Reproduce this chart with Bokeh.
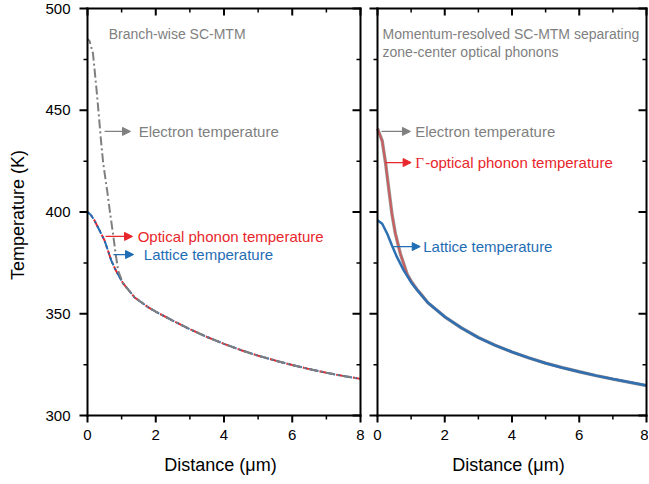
from bokeh.plotting import figure
from bokeh.layouts import row
from bokeh.models import Range1d, FixedTicker, Label, Arrow, NormalHead
from bokeh.embed import file_html
from bokeh.resources import INLINE

# ---------------- data ----------------
x_ticks = [0, 2, 4, 6, 8]
x_minor = [1, 3, 5, 7]
y_ticks = [300, 350, 400, 450, 500]
y_minor = [325, 375, 425, 475]

# Left panel: branch-wise SC-MTM
x_left_electron = [0, 0.06, 0.16, 0.26, 0.33, 0.39, 0.46, 0.58, 0.65, 0.75, 0.82, 0.9,
                   1.04, 1.38, 1.77, 2.0, 2.5, 3, 3.5, 4, 4.5, 5, 5.5, 6, 6.5, 7, 7.5, 8]
T_left_electron = [485, 484, 478, 461, 448, 436, 424, 410, 401, 389, 380, 371,
                   365, 358, 353.3, 351, 346.6, 342.4, 338.6, 335.2, 332.1, 329.4, 327,
                   324.8, 322.8, 321, 319.4, 318]
x_left_optical = [0, 0.1, 0.2, 0.35, 0.5, 0.6, 0.7, 0.84, 1.04, 1.38, 1.77, 2.0,
                  2.5, 3, 3.5, 4, 4.5, 5, 5.5, 6, 6.5, 7, 7.5, 8]
T_left_optical = [400, 398.5, 396, 391, 386, 381, 376, 371, 365, 358, 353.3, 351,
                  346.6, 342.4, 338.6, 335.2, 332.1, 329.4, 327, 324.8, 322.8, 321, 319.4, 318]
x_left_lattice = [0, 0.1, 0.2, 0.35, 0.5, 0.6, 0.7, 0.84, 1.04, 1.38, 1.77, 2.0,
                  2.5, 3, 3.5, 4, 4.5, 5, 5.5, 6, 6.5, 7, 7.5, 8]
T_left_lattice = [400, 398.5, 396, 391, 386, 381, 376, 371, 365, 358, 353.3, 351,
                  346.6, 342.4, 338.6, 335.2, 332.1, 329.4, 327, 324.8, 322.8, 321, 319.4, 318]

# Right panel: momentum-resolved SC-MTM
x_right_electron = [0, 0.14, 0.24, 0.33, 0.43, 0.53, 0.68, 0.88, 1.0, 1.17, 1.3, 1.5,
                    2, 2.5, 3, 3.5, 4, 4.5, 5, 5.5, 6, 6.5, 7, 7.5, 8]
T_right_electron = [441, 435, 424, 412, 399, 389.5, 379.5, 369.5, 366, 362, 359.5, 355.4,
                    348.5, 343, 338.3, 334.5, 331.2, 328.3, 325.7, 323.5, 321.5, 319.6,
                    317.9, 316.3, 314.7]
x_right_gamma = [0, 0.14, 0.24, 0.33, 0.43, 0.53, 0.68, 0.88, 1.0, 1.17, 1.3, 1.5,
                 2, 2.5, 3, 3.5, 4, 4.5, 5, 5.5, 6, 6.5, 7, 7.5, 8]
T_right_gamma = [441, 435, 424, 412, 399, 389.5, 379.5, 369.5, 366, 362, 359.5, 355.4,
                 348.5, 343, 338.3, 334.5, 331.2, 328.3, 325.7, 323.5, 321.5, 319.6,
                 317.9, 316.3, 314.7]
x_right_lattice = [0, 0.14, 0.29, 0.43, 0.58, 0.78, 1.03, 1.27, 1.5,
                   2, 2.5, 3, 3.5, 4, 4.5, 5, 5.5, 6, 6.5, 7, 7.5, 8]
T_right_lattice = [396, 394.2, 389.3, 383.5, 377.8, 371.3, 364.7, 359.8, 355.4,
                   348.5, 343, 338.3, 334.5, 331.2, 328.3, 325.7, 323.5, 321.5, 319.6,
                   317.9, 316.3, 314.7]

# ---------------- style / geometry ----------------
GRAY = "#7f7f7f"
RED = "#e8262b"
BLUE = "#1f6db5"
FONT = "Liberation Sans"
H = 482
X0, X1 = 0, 8
Y0, Y1 = 300, 500
DATA_H = 407                  # pixel height of the 300..500 box
PADL, PADR, PADT, PADB = 9, 2, 2, 8   # room inside the frame for outward ticks
BT = 6
BB = H - BT - (DATA_H + PADT + PADB)


def seg(p, xa, ya, xb, yb, w, cap="butt"):
    p.add_layout(Arrow(start=None, end=None, x_start=xa, y_start=ya, x_end=xb, y_end=yb,
                       line_color="black", line_width=w, line_cap=cap))


def make_panel(width, bl, br, show_ylabels):
    data_w = width - bl - br - PADL - PADR
    ux = (X1 - X0) / data_w
    uy = (Y1 - Y0) / DATA_H
    p = figure(width=width, height=H,
               x_range=Range1d(X0 - PADL * ux, X1 + PADR * ux),
               y_range=Range1d(Y0 - PADB * uy, Y1 + PADT * uy),
               output_backend="svg", toolbar_location=None,
               min_border_left=bl, min_border_right=br, min_border_top=BT, min_border_bottom=BB)
    p.xgrid.visible = False
    p.ygrid.visible = False
    p.outline_line_color = None

    xa = p.xaxis[0]
    xa.ticker = FixedTicker(ticks=x_ticks, minor_ticks=x_minor)
    xa.axis_line_color = None
    xa.major_tick_line_color = None
    xa.minor_tick_line_color = None
    xa.major_tick_out = 0
    xa.major_tick_in = 0
    xa.minor_tick_out = 0
    xa.minor_tick_in = 0
    xa.major_label_text_font = FONT
    xa.major_label_text_font_size = "15px"
    xa.major_label_text_color = "black"
    xa.major_label_standoff = 6
    xa.axis_label = "Distance (\u03bcm)"
    xa.axis_label_text_font = FONT
    xa.axis_label_text_font_size = "18px"
    xa.axis_label_text_font_style = "normal"
    xa.axis_label_text_color = "black"
    xa.axis_label_standoff = 12

    ya = p.yaxis[0]
    if show_ylabels:
        ya.ticker = FixedTicker(ticks=y_ticks, minor_ticks=y_minor)
        ya.axis_line_color = None
        ya.major_tick_line_color = None
        ya.minor_tick_line_color = None
        ya.major_tick_out = 0
        ya.major_tick_in = 0
        ya.minor_tick_out = 0
        ya.minor_tick_in = 0
        ya.major_label_text_font = FONT
        ya.major_label_text_font_size = "15px"
        ya.major_label_text_color = "black"
        ya.major_label_standoff = 8
        ya.axis_label = "Temperature (K)"
        ya.axis_label_text_font = FONT
        ya.axis_label_text_font_size = "18px"
        ya.axis_label_text_font_style = "normal"
        ya.axis_label_text_color = "black"
        ya.axis_label_standoff = 14
    else:
        ya.visible = False

    # box around the data area
    seg(p, X0, Y0, X0, Y1, 2, "square")
    seg(p, X1, Y0, X1, Y1, 2, "square")
    seg(p, X0, Y0, X1, Y0, 2, "square")
    seg(p, X0, Y1, X1, Y1, 2, "square")
    # ticks: outward on left/bottom, inward on top/right
    for vals, ln, w in ((x_ticks, 7, 2), (x_minor, 4, 1.5)):
        for v in vals:
            seg(p, v, Y0, v, Y0 - ln * uy, w)
            seg(p, v, Y1, v, Y1 - ln * uy, w)
    for vals, ln, w in ((y_ticks, 8, 2), (y_minor, 4, 1.5)):
        for v in vals:
            seg(p, X0, v, X0 - ln * ux, v, w)
            seg(p, X1, v, X1 - ln * ux, v, w)
    return p


def add_arrow(p, x0, x1, y, color):
    p.add_layout(Arrow(end=NormalHead(size=8, fill_color=color, line_color=color, line_width=1),
                       x_start=x0, y_start=y, x_end=x1, y_end=y,
                       line_color=color, line_width=1.2))


def add_label(p, x, y, text, color, size="15px", font=FONT, x_offset=0):
    p.add_layout(Label(x=x, y=y, text=text, text_color=color, text_font=font,
                       text_font_size=size, text_baseline="middle", text_align="left",
                       x_offset=x_offset))


# ---------------- left panel ----------------
p1 = make_panel(366, 78, 4, True)

p1.line(x_left_optical, T_left_optical, line_color=RED, line_width=2,
        line_dash="9 3 2 3", line_dash_offset=7)
p1.line(x_left_lattice, T_left_lattice, line_color=BLUE, line_width=2,
        line_dash="9 3 2 3")
p1.line(x_left_electron, T_left_electron, line_color=GRAY, line_width=2,
        line_dash="9 3 2 3", line_dash_offset=3)

add_label(p1, 0.62, 487.5, "Branch-wise SC-MTM", GRAY, size="14px")
add_arrow(p1, 0.5, 1.26, 439.6, GRAY)
add_label(p1, 1.5, 439.6, "Electron temperature", GRAY)
add_arrow(p1, 0.53, 1.32, 388.0, RED)
add_label(p1, 1.47, 388.0, "Optical phonon temperature", RED)
add_arrow(p1, 0.76, 1.35, 379.1, BLUE)
add_label(p1, 1.65, 379.1, "Lattice temperature", BLUE)

# ---------------- right panel ----------------
p2 = make_panel(282, 2, 0, False)

p2.line(x_right_electron, T_right_electron, line_color="#9a9a9a", line_width=3.4)
p2.line(x_right_gamma, T_right_gamma, line_color="#cf5656", line_width=2, line_alpha=0.9)
p2.line(x_right_lattice, T_right_lattice, line_color="#2f70b3", line_width=2.5)

add_label(p2, 0.15, 487.5, "Momentum-resolved SC-MTM separating", GRAY, size="14px")
add_label(p2, 0.15, 478.7, "zone-center optical phonons", GRAY, size="14px")
add_arrow(p2, 0.12, 0.98, 439.6, GRAY)
add_label(p2, 1.12, 439.6, "Electron temperature", GRAY)
add_arrow(p2, 0.24, 1.0, 424.3, RED)
add_label(p2, 1.12, 424.3, "\u0393", RED, size="15px", font="Liberation Serif")
add_label(p2, 1.12, 424.3, "-optical phonon temperature", RED, x_offset=10)
add_arrow(p2, 0.47, 1.27, 383.0, BLUE)
add_label(p2, 1.36, 383.0, "Lattice temperature", BLUE)

layout = row(p1, p2)
open("out.html", "w").write(file_html(layout, INLINE))
